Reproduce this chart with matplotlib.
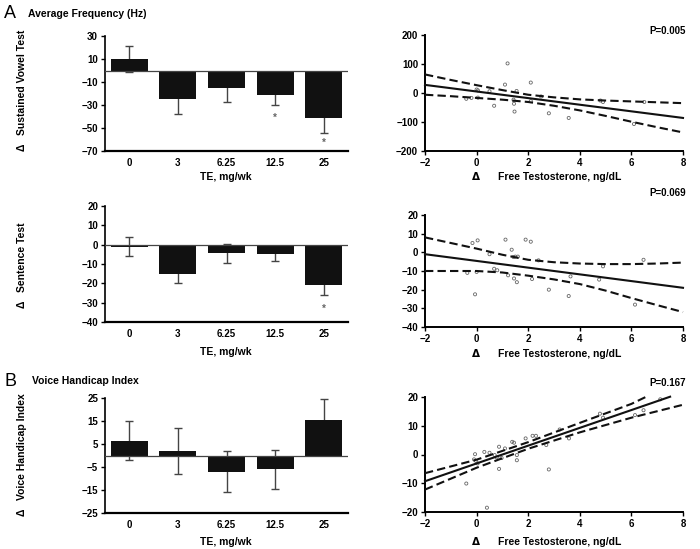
import numpy as np
import matplotlib
matplotlib.use("Agg")
import matplotlib.pyplot as plt

plt.rcParams['font.family'] = ['Liberation Sans', 'DejaVu Sans']
plt.rcParams['font.weight'] = 'bold'

# bar data
doses = ['0', '3', '6.25', '12.5', '25']
vowel_mean = [10, -25, -15, -21, -41]
vowel_err = [11, 13, 12, 9, 13]
vowel_star = [None, None, None, -41, -63]
sent_mean = [-1, -15, -4.5, -5, -21]
sent_err = [5, 5, 4.8, 3.5, 5]
sent_star = [None, None, None, None, -33]
vhi_mean = [6.5, 2, -7, -6, 15.5]
vhi_err = [8.5, 10, 9, 8.5, 9]

# scatter data (delta free testosterone vs outcome)
vowel_x = [1.2, 1.1, 2.1, 0.0, 0.05, -0.4, -0.2, 0.05, 0.68, 0.5, 1.43, 1.45, 1.47,
           1.55, 2.1, 2.5, 2.8, 3.57, 4.8, 4.9, 6.1, 6.5]
vowel_y = [102, 29, 36, 12, 9, -20, -17, -16, -44, 6, -23, -37, -64,
           7, -28, -12, -70, -86, -26, -31, -107, -31]
sent_x = [-0.16, 0.04, 1.12, 1.9, 2.1, 1.36, 0.5, 1.43, 1.5, 1.6, 2.4, -0.36, 0.0,
          0.68, 0.8, 1.22, 1.45, 1.56, 2.15, -0.06, 2.8, 3.57, 3.64, 4.75, 4.9, 6.14, 6.47]
sent_y = [5, 6.4, 6.8, 6.8, 5.7, 1.4, -1, -2.5, -2.3, -2.3, -4.3, -11, -10.5,
          -8.8, -9.6, -12.3, -14, -16, -14.3, -22.5, -20, -23.4, -12.9, -14.6, -7.5, -28, -4]
vhi_x = [-0.4, 0.4, -0.06, -0.1, -0.03, 0.04, 0.3, 0.5, 0.87, 0.87, 1.1, 1.38, 1.45,
         1.56, 1.56, 1.9, 2.17, 2.3, 2.7, 2.8, 3.22, 3.58, 4.78, 4.9, 6.14, 6.47, 7.12,
         0.7, 0.78, 0.97]
vhi_y = [-10.1, -18.5, 0.1, -1.7, -2.2, -3.1, 0.9, 0.6, 2.7, -5, 2.1, 4.4, 4.1,
         -0.2, -2, 5.6, 6.5, 6.5, 3.3, -5.2, 8.7, 5.6, 14.2, 12.8, 13.7, 15.4, 19.2,
         -0.2, -1, -1.2]

# fitted lines and confidence bands
vowel_fit_x = [-2, 8]
vowel_fit_y = [28, -86]
vowel_ci_x = [-2, -1, 0, 1, 2, 3, 4, 5, 6, 7, 8]
vowel_ci_hi = [64, 45, 27, 10, -6, -15, -22, -26, -29, -32, -35]
vowel_ci_lo = [-6, -11, -17, -23, -31, -44, -60, -79, -99, -118, -136]
sent_fit_x = [-2, 8]
sent_fit_y = [-1, -19]
sent_ci_x = [-2, -1, 0, 1, 2, 3, 4, 5, 6, 7, 8]
sent_ci_hi = [8, 5, 2, -1.3, -4, -5.3, -6, -6.3, -6.3, -6, -5.5]
sent_ci_lo = [-10, -10, -10, -10.8, -12.5, -14.5, -17, -20.5, -24.5, -28.3, -32]
vhi_fit_x = [-2, 7.5]
vhi_fit_y = [-9.3, 20.1]
vhi_hi_x = [-2, 0, 2, 4, 6, 6.6]
vhi_ci_hi = [-6.5, -1.8, 4.3, 11, 17.6, 20.2]
vhi_lo_x = [-2, 0, 2, 4, 6, 8]
vhi_ci_lo = [-12.2, -4.6, 2, 7.7, 12.8, 17.3]

W, H = 700, 549
fig = plt.figure(figsize=(W / 100, H / 100), dpi=100)


def px_axes(l, t, r, b):
    return fig.add_axes([l / W, 1 - b / H, (r - l) / W, (b - t) / H])


def bar_panel(ax, means, errs, stars, ylim, yticks, ylabel, ylab_y, xlab_y):
    x = np.arange(len(doses))
    ax.errorbar(x, means, yerr=errs, fmt='none', ecolor='#444444', elinewidth=1,
                capsize=3, capthick=1, zorder=1)
    ax.bar(x, means, width=0.76, color='#111111', zorder=2)
    ax.axhline(0, color='#444444', lw=0.9, zorder=3)
    if stars:
        for i, s in enumerate(stars):
            if s is not None:
                ax.text(x[i], s, '*', ha='center', va='center', fontsize=7, color='#666666')
    ax.set_xlim(-0.5, 4.5)
    ax.set_ylim(*ylim)
    ax.set_yticks(yticks)
    ax.set_xticks(x)
    ax.set_xticklabels(doses)
    ax.tick_params(axis='x', length=0, pad=5, labelsize=7)
    ax.tick_params(axis='y', length=3, width=1, pad=2, labelsize=7)
    for s in ['top', 'right']:
        ax.spines[s].set_visible(False)
    ax.spines['left'].set_linewidth(1.2)
    ax.spines['bottom'].set_linewidth(1.6)
    fig.text(22 / W, 1 - ylab_y / H, ylabel, rotation=90, ha='center', va='center',
             fontsize=7.5, fontweight='bold')
    fig.text(226 / W, 1 - xlab_y / H, 'TE, mg/wk', ha='center', va='center',
             fontsize=7.5, fontweight='bold')


def scatter_panel(ax, xs, ys, fx, fy, hx, hy, lx, ly, ylim, yticks, pval, p_y, xlab_y):
    ax.scatter(xs, ys, s=5, facecolors='none', edgecolors='#666666', linewidths=0.6, zorder=2)
    ax.plot(fx, fy, color='#111111', lw=1.5, zorder=3, clip_on=False)
    ax.plot(hx, hy, color='#111111', lw=1.5, ls=(0, (4, 2)), zorder=3, clip_on=False)
    ax.plot(lx, ly, color='#111111', lw=1.5, ls=(0, (4, 2)), zorder=3, clip_on=False)
    ax.set_xlim(-2, 8)
    ax.set_ylim(*ylim)
    ax.set_yticks(yticks)
    ax.set_xticks([-2, 0, 2, 4, 6, 8])
    ax.tick_params(axis='both', length=3, width=1, pad=2, labelsize=7)
    for s in ['top', 'right']:
        ax.spines[s].set_visible(False)
    ax.spines['left'].set_linewidth(1.4)
    ax.spines['bottom'].set_linewidth(1.4)
    fig.text(686 / W, 1 - p_y / H, pval, ha='right', va='center', fontsize=7, fontweight='bold')
    fig.text(476 / W, 1 - xlab_y / H, '\u0394', ha='center', va='center', fontsize=7.5,
             fontweight='bold', family=['DejaVu Sans'])
    fig.text(498 / W, 1 - xlab_y / H, 'Free Testosterone, ng/dL', ha='left', va='center',
             fontsize=7.5, fontweight='bold')


# headings
fig.text(4 / W, 1 - 13 / H, 'A', fontsize=13, fontweight='normal', va='center')
fig.text(28 / W, 1 - 14 / H, 'Average Frequency (Hz)', fontsize=7.5, fontweight='bold', va='center')
fig.text(4 / W, 1 - 381 / H, 'B', fontsize=13, fontweight='normal', va='center')
fig.text(32 / W, 1 - 381 / H, 'Voice Handicap Index', fontsize=7.5, fontweight='bold', va='center')

ax1 = px_axes(105, 36, 348, 151)
bar_panel(ax1, vowel_mean, vowel_err, vowel_star, (-70, 30), [-70, -50, -30, -10, 10, 30],
          '\u0394   Sustained Vowel Test', 90, 177)
ax2 = px_axes(105, 206, 348, 322)
bar_panel(ax2, sent_mean, sent_err, sent_star, (-40, 20), [-40, -30, -20, -10, 0, 10, 20],
          '\u0394   Sentence Test', 265, 352)
ax3 = px_axes(105, 398, 348, 513)
bar_panel(ax3, vhi_mean, vhi_err, None, (-25, 25), [-25, -15, -5, 5, 15, 25],
          '\u0394   Voice Handicap Index', 455, 542)

ax4 = px_axes(425, 35, 683, 151)
scatter_panel(ax4, vowel_x, vowel_y, vowel_fit_x, vowel_fit_y, vowel_ci_x, vowel_ci_hi,
              vowel_ci_x, vowel_ci_lo, (-200, 200), [-200, -100, 0, 100, 200],
              'P=0.005', 31, 177)
ax5 = px_axes(425, 215, 683, 327)
scatter_panel(ax5, sent_x, sent_y, sent_fit_x, sent_fit_y, sent_ci_x, sent_ci_hi,
              sent_ci_x, sent_ci_lo, (-40, 20), [-40, -30, -20, -10, 0, 10, 20],
              'P=0.069', 193, 354)
ax6 = px_axes(425, 397, 683, 512)
scatter_panel(ax6, vhi_x, vhi_y, vhi_fit_x, vhi_fit_y, vhi_hi_x, vhi_ci_hi,
              vhi_lo_x, vhi_ci_lo, (-20, 20), [-20, -10, 0, 10, 20],
              'P=0.167', 383, 542)

fig.savefig('out.png', dpi=100)
